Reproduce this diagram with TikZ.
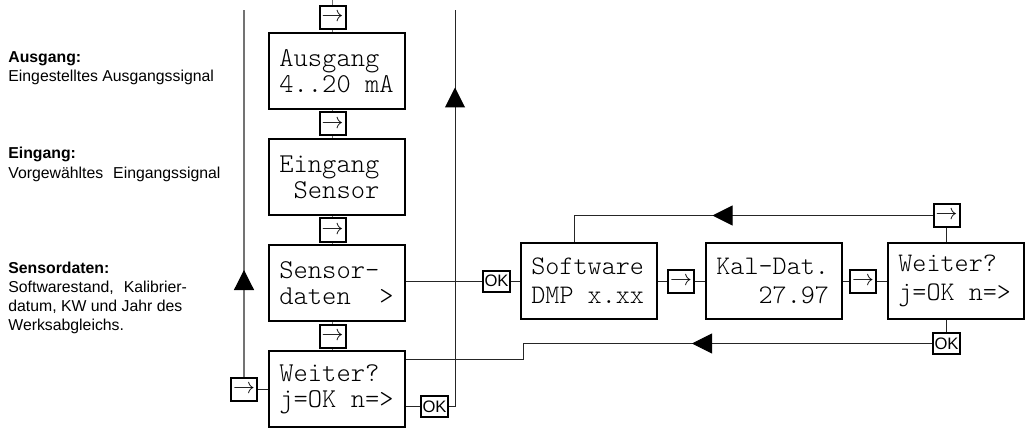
\documentclass[tikz,border=0pt]{standalone}
\usepackage{fontspec}
\setmainfont{Liberation Sans}
\setmonofont{lmmonolt10-regular.otf}
\usetikzlibrary{arrows.meta, positioning, calc, decorations.markings}
\tikzset{
  lcd/.style={draw, line width=1.2pt, fill=white, minimum width=68pt, minimum height=38pt,
    text width=57.6pt, align=left, inner sep=0pt, font=\ttfamily\fontsize{13.6}{13}\selectfont},
  lcds/.style={lcd, font=\ttfamily\fontsize{13.4}{14.5}\selectfont},
  key/.style={draw, line width=1pt, fill=white, minimum width=13pt, minimum height=11.5pt,
    inner sep=0pt, font=\fontsize{11}{11}\selectfont},
  okbtn/.style={draw, line width=1pt, fill=white, minimum width=13.5pt, minimum height=10.5pt,
    inner sep=0pt, font=\fontsize{8.3}{8.3}\selectfont},
  wire/.style={draw=black!85, line width=0.5pt},
  gwire/.style={draw=black!55, line width=0.6pt},
  note/.style={align=left, inner sep=0pt, font=\fontsize{7.9}{9.5}\selectfont},
  back/.style={postaction={decorate}, decoration={markings,
    mark=at position #1 with {\arrow[black]{Triangle[length=10pt,width=10pt]}}}},
}
\newcommand{\lcdsp}{\hphantom{0}}
\newcommand{\keyarrow}{$\rightarrow$}

\begin{document}
\begin{tikzpicture}[x=0.5pt, y=-0.5pt]
  \useasboundingbox (0,0) rectangle (1029,433);

  % menu column
  \node[lcd] (aus) at (337,71) {Ausgang\\4..20\lcdsp mA};
  \node[lcd, below=13.8pt of aus] (ein) {Eingang\\\lcdsp Sensor};
  \node[lcd, below=13.8pt of ein] (sens) {Sensor-\\daten\lcdsp\lcdsp>};
  \node[lcd, below=13.8pt of sens] (wei) {Weiter?\\j=OK\lcdsp n=>};

  \node[key, above=0.9pt of aus, xshift=-2.25pt] (k1) {\keyarrow};
  \node[key, xshift=-2.25pt] (k2) at ($(aus.south)!.5!(ein.north)$) {\keyarrow};
  \node[key, xshift=-2.25pt] (k3) at ($(ein.south)!.5!(sens.north)$) {\keyarrow};
  \node[key, xshift=-2.25pt] (k4) at ($(sens.south)!.5!(wei.north)$) {\keyarrow};
  \node[key, left=4.9pt of wei] (kL) {\keyarrow};
  \node[okbtn, right=6.9pt of wei.east, yshift=-8.75pt] (okB) {OK};

  % sensor data submenu
  \node[okbtn, right=37.9pt of sens, yshift=1pt] (okA) {OK};
  \node[lcds, right=4.4pt of okA] (soft) {Software\\DMP\lcdsp x.xx};
  \node[key, right=4.4pt of soft] (k5) {\keyarrow};
  \node[lcds, right=4.9pt of k5] (kal) {Kal-Dat.\\\lcdsp\lcdsp\lcdsp 27.97};
  \node[key, right=2.9pt of kal] (k6) {\keyarrow};
  \node[lcds, right=4.9pt of k6] (weiR) {Weiter?\\j=OK\lcdsp n=>};
  \node[key, above=6.9pt of weiR, xshift=-4.75pt] (kT) {\keyarrow};
  \node[okbtn, below=5.9pt of weiR, xshift=-4.75pt] (okR) {OK};

  % notes
  \node[note, anchor=base west] (nAus) at (8,82) {\textbf{Ausgang:}\\Eingestelltes Ausgangssignal};
  \node[note, anchor=base west] (nEin) at (8,178) {\textbf{Eingang:}\\Vorgewähltes\hspace{5pt}Eingangssignal};
  \node[note, anchor=base west] (nSens) at (8,330) {\textbf{Sensordaten:}\\Softwarestand,\hspace{5pt}Kalibrier-\\datum, KW und Jahr des\\Werksabgleichs.};

  \coordinate (top) at (0,0);
  \coordinate (upL) at (243.5,10);
  \coordinate (upR) at (455,10);
  \coordinate (ret) at ([yshift=-5pt]wei.north east);
  \coordinate (bend) at ([xshift=2pt]soft.west);

  % column wiring
  \draw[gwire] (k1.north) -- (k1.north |- top);
  \draw[gwire] (k1.south) -- (k1.south |- aus.north);
  \draw[gwire] (k2.north) -- (k2.north |- aus.south) (k2.south) -- (k2.south |- ein.north);
  \draw[gwire] (k3.north) -- (k3.north |- ein.south) (k3.south) -- (k3.south |- sens.north);
  \draw[gwire] (k4.north) -- (k4.north |- sens.south) (k4.south) -- (k4.south |- wei.north);
  \draw[gwire, back=53.25pt] (kL.north) -- (kL.north |- upL);
  \draw[wire] (kL) -- (wei);
  \draw[wire] (wei.east |- okB) -- (okB);
  \draw[wire, back=162.5pt] (okB.east) -| (upR);

  % submenu wiring
  \draw[wire] (sens.east |- okA) -- (okA);
  \draw[wire] (okA) -- (soft);
  \draw[wire] (soft) -- (k5);
  \draw[wire] (k5) -- (kal);
  \draw[wire] (kal) -- (k6);
  \draw[wire] (k6) -- (weiR);
  \draw[wire] (kT.south) -- (kT.south |- weiR.north);
  \draw[wire] (okR.north) -- (okR.north |- weiR.south);
  \draw[wire, back=110pt] (kT.west) -| ([xshift=-7.25pt]soft.north);
  \draw[wire, back=120pt] (okR.west) -| (bend |- ret) -- (ret);
\end{tikzpicture}
\end{document}
